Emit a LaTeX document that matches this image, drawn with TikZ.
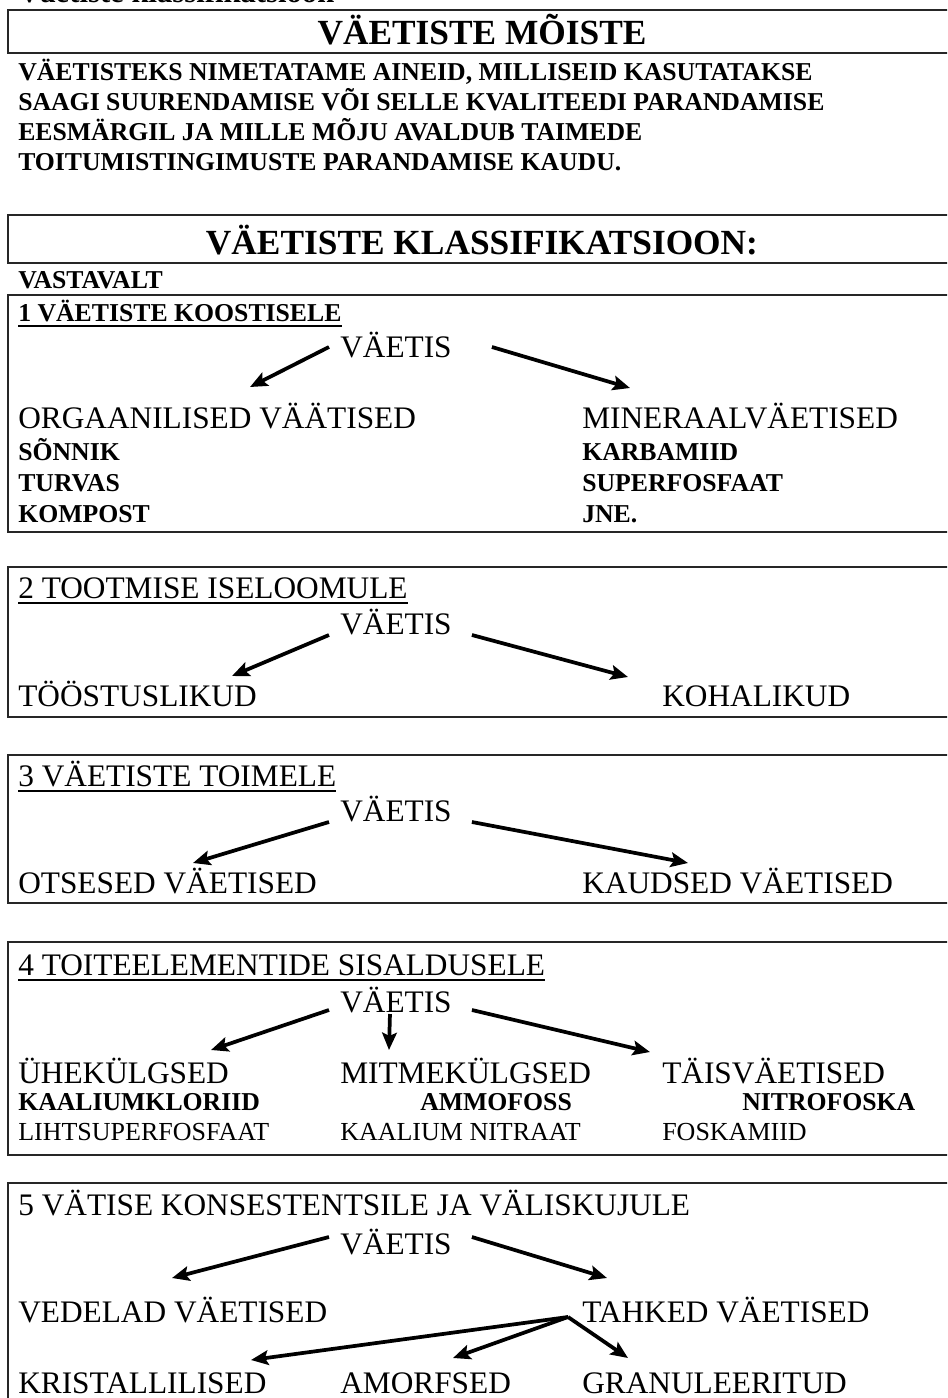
\documentclass[tikz,border=0pt]{standalone}
\usepackage{fontspec}
\setmainfont{Liberation Serif}
\usetikzlibrary{arrows.meta,calc}

\tikzset{
  frame/.style={draw=black!85, line width=1.5pt},
  big/.style={anchor=base west, inner sep=0pt, font=\fontsize{23.5}{28}\selectfont},
  smallb/.style={anchor=base west, inner sep=0pt, font=\fontsize{19.3}{23}\selectfont\bfseries},
  small/.style={anchor=base west, inner sep=0pt, font=\fontsize{19.5}{23}\selectfont},
  heading/.style={anchor=base, inner sep=0pt, font=\fontsize{26.5}{32}\selectfont\bfseries},
  arr/.style={line width=2.8pt, -{Stealth[length=13pt,width=11pt,inset=2.5pt]}},
  uline/.style={line width=1.1pt},
}

\begin{document}
\begin{tikzpicture}[x=0.75pt,y=0.75pt,yscale=-1,xscale=1]
%page 947 x 1398
\useasboundingbox (0,0) rectangle (947,1398);
\clip (0,0) rectangle (947,1398);
% Text Node (cut at the top)
\node[smallb, font=\fontsize{23}{27}\selectfont\bfseries] (cut) at (18,3) {Väetiste klassifikatsioon};

%Shape: Rectangle
\draw[frame] (8,10) rectangle (960,53);
% Text Node
\node[heading] (moiste) at (482,45) {VÄETISTE MÕISTE};
% Text Node
\node[smallb] (def1) at (18,81) {VÄETISTEKS NIMETATAME AINEID, MILLISEID KASUTATAKSE};
\node[smallb] (def2) at (18,111) {SAAGI SUURENDAMISE VÕI SELLE KVALITEEDI PARANDAMISE};
\node[smallb] (def3) at (18,141) {EESMÄRGIL JA MILLE MÕJU AVALDUB TAIMEDE};
\node[smallb] (def4) at (18,171) {TOITUMISTINGIMUSTE PARANDAMISE KAUDU.};

%Shape: Rectangle
\draw[frame] (8,215) rectangle (960,263);
% Text Node
\node[heading] (klass) at (482,254) {VÄETISTE KLASSIFIKATSIOON:};
\node[smallb] (vastavalt) at (18,288) {VASTAVALT};

%Shape: Rectangle -- 1
\draw[frame] (8,295) rectangle (960,532);
\node[smallb] (h1) at (18,321) {1 VÄETISTE KOOSTISELE};
\draw[uline] ($(h1.base west)+(0,5)$) -- ($(h1.base east)+(0,5)$);
\node[big] (v1) at (340,357) {VÄETIS};
\node[big] (org) at (18,428) {ORGAANILISED VÄÄTISED};
\node[big] (min) at (582,428) {MINERAALVÄETISED};
\node[smallb] (sonnik) at (18,460) {SÕNNIK};
\node[smallb] (turvas) at (18,491) {TURVAS};
\node[smallb] (kompost) at (18,522) {KOMPOST};
\node[smallb] (karbamiid) at (582,460) {KARBAMIID};
\node[smallb] (superf) at (582,491) {SUPERFOSFAAT};
\node[smallb] (jne) at (582,522) {JNE.};
%Straight Lines
\coordinate (t1l) at (250,387);
\coordinate (t1r) at (630,388);
\draw[arr] ($(v1.base west)+(-11,-10)$) -- (t1l);
\draw[arr] ($(v1.base east)+(40,-10)$) -- (t1r);

%Shape: Rectangle -- 2
\draw[frame] (8,567) rectangle (960,717);
\node[big] (h2) at (18,598) {2 TOOTMISE ISELOOMULE};
\draw[uline] ($(h2.base west)+(0,5)$) -- ($(h2.base east)+(0,5)$);
\node[big] (v2) at (340,634) {VÄETIS};
\node[big] (toost) at (18,706) {TÖÖSTUSLIKUD};
\node[big] (kohal) at (662,706) {KOHALIKUD};
%Straight Lines
\coordinate (t2l) at (232,676);
\coordinate (t2r) at (628,677);
\draw[arr] ($(v2.base west)+(-11,1)$) -- (t2l);
\draw[arr] ($(v2.base east)+(20,1)$) -- (t2r);

%Shape: Rectangle -- 3
\draw[frame] (8,755) rectangle (960,903);
\node[big] (h3) at (18,786) {3 VÄETISTE TOIMELE};
\draw[uline] ($(h3.base west)+(0,5)$) -- ($(h3.base east)+(0,5)$);
\node[big] (v3) at (340,821) {VÄETIS};
\node[big] (otse) at (18,893) {OTSESED VÄETISED};
\node[big] (kaud) at (582,893) {KAUDSED VÄETISED};
%Straight Lines
\coordinate (t3l) at (193,863);
\coordinate (t3r) at (688,863);
\draw[arr] ($(v3.base west)+(-11,1)$) -- (t3l);
\draw[arr] ($(v3.base east)+(20,1)$) -- (t3r);

%Shape: Rectangle -- 4
\draw[frame] (8,942) rectangle (960,1155);
\node[big] (h4) at (18,975) {4 TOITEELEMENTIDE SISALDUSELE};
\draw[uline] ($(h4.base west)+(0,5)$) -- ($(h4.base east)+(0,5)$);
\node[big] (v4) at (340,1012) {VÄETIS};
\node[big] (uhe) at (18,1083) {ÜHEKÜLGSED};
\node[big] (mitme) at (340,1083) {MITMEKÜLGSED};
\node[big] (tais) at (662,1083) {TÄISVÄETISED};
\node[smallb] (kcl) at (18,1110) {KAALIUMKLORIID};
\node[smallb] (ammo) at (420,1110) {AMMOFOSS};
\node[smallb] (nitro) at (742,1110) {NITROFOSKA};
\node[small] (liht) at (18,1140) {LIHTSUPERFOSFAAT};
\node[small] (knit) at (340,1140) {KAALIUM NITRAAT};
\node[small] (foska) at (662,1140) {FOSKAMIID};
%Straight Lines
\coordinate (t4l) at (211,1050);
\coordinate (t4m) at (389,1050);
\coordinate (t4r) at (650,1052);
\draw[arr] ($(v4.base west)+(-11,-2)$) -- (t4l);
\draw[arr] ($(v4.base)+(-6,2)$) -- (t4m);
\draw[arr] ($(v4.base east)+(20,-2)$) -- (t4r);

%Shape: Rectangle -- 5
\draw[frame] (8,1183) rectangle (960,1420);
\node[big] (h5) at (18,1215) {5 VÄTISE KONSESTENTSILE JA VÄLISKUJULE};
\node[big] (v5) at (340,1254) {VÄETIS};
\node[big] (vedel) at (18,1322) {VEDELAD VÄETISED};
\node[big] (tahk) at (582,1322) {TAHKED VÄETISED};
\node[big] (krist) at (18,1393) {KRISTALLILISED};
\node[big] (amorf) at (340,1393) {AMORFSED};
\node[big] (granul) at (582,1393) {GRANULEERITUD};
%Straight Lines
\coordinate (t5l) at (172,1278);
\coordinate (t5r) at (607,1278);
\draw[arr] ($(v5.base west)+(-11,-17)$) -- (t5l);
\draw[arr] ($(v5.base east)+(20,-17)$) -- (t5r);
\coordinate (fork) at ($(tahk.base west)+(-14,-5)$);
\coordinate (t5a) at (251,1360);
\coordinate (t5b) at (453,1358);
\coordinate (t5c) at (628,1358);
\draw[arr] (fork) -- (t5a);
\draw[arr] (fork) -- (t5b);
\draw[arr] (fork) -- (t5c);
\end{tikzpicture}
\end{document}
